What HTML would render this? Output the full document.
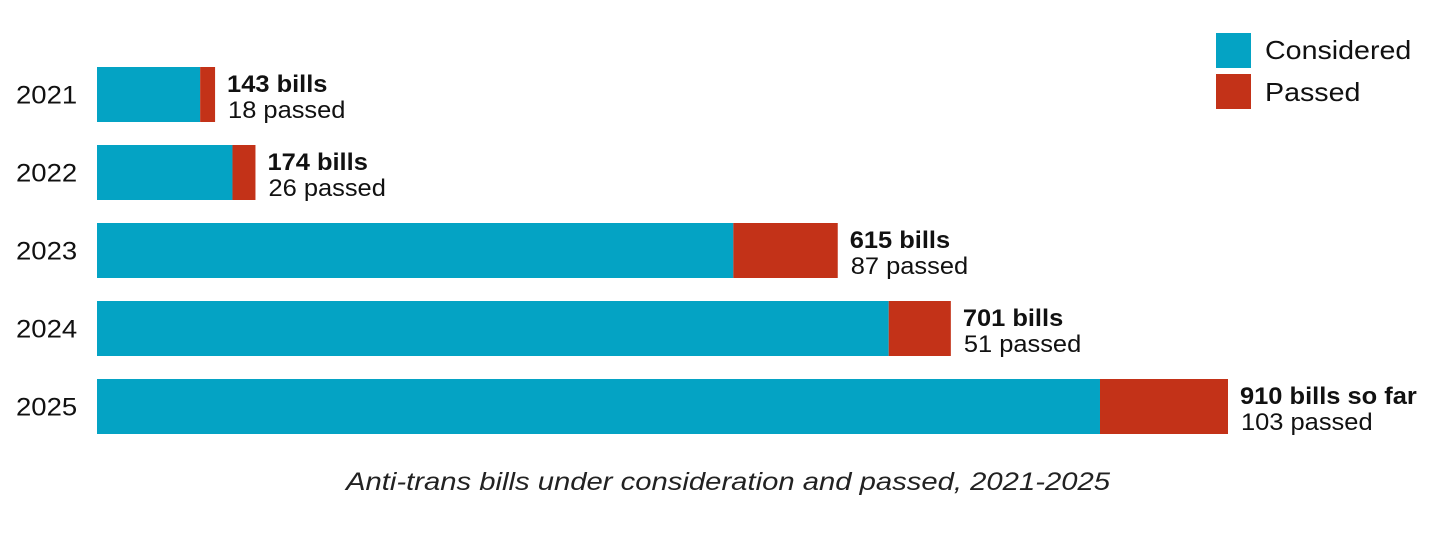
<!DOCTYPE html>
<html><head><meta charset="utf-8">
<style>
html,body{margin:0;padding:0;background:#fff;}
body{width:1456px;height:534px;overflow:hidden;font-family:"Liberation Sans",sans-serif;}
</style></head>
<body>
<svg id="chart" width="1456" height="534" xmlns="http://www.w3.org/2000/svg">
  <g>
    <rect x="1216" y="33" width="35" height="35" fill="#04a3c4"/>
    <text class="stretch" data-k="1.1" x="1265" y="59" font-size="26" fill="#111">Considered</text>
    <rect x="1216" y="74" width="35" height="35" fill="#c33218"/>
    <text class="stretch" data-k="1.1" x="1265" y="101" font-size="26" fill="#111">Passed</text>
  </g>
  <text x="346" y="490" font-size="25" font-style="italic" fill="#222" textLength="764" lengthAdjust="spacingAndGlyphs">Anti-trans bills under consideration and passed, 2021-2025</text>
  <g id="bars"></g>
</svg>
<script>
// Segment lengths (bill units on a common scale)
const years = ["2021","2022","2023","2024","2025"];
const considered = [83, 109, 512, 637, 807];
const passed = [12, 18.5, 84, 50, 103];
const totalLabels = ["143 bills","174 bills","615 bills","701 bills","910 bills so far"];
const passedLabels = ["18 passed","26 passed","87 passed","51 passed","103 passed"];

const x0 = 97, pxPerUnit = 1131/910;
const xScale = v => x0 + v*pxPerUnit;
const rowTop = i => 67 + i*78;
const barH = 55;
const NS = "http://www.w3.org/2000/svg";
const g = document.getElementById("bars");
function mk(tag, attrs){const e=document.createElementNS(NS,tag);for(const k in attrs)e.setAttribute(k,attrs[k]);return e;}
years.forEach((yr,i)=>{
  const y = rowTop(i);
  const t = mk("text",{x:16,y:y+barH/2+9,"font-size":25,fill:"#111",class:"stretch","data-k":"1.1"});
  t.textContent = yr;
  
  
  g.appendChild(t);
  const xb = xScale(considered[i]);
  const b = mk("rect",{x:x0,y:y,width:xb-x0,height:barH,fill:"#04a3c4"});
  
  
  g.appendChild(b);
  const xr = xScale(considered[i]+passed[i]);
  const r = mk("rect",{x:xb,y:y,width:xr-xb,height:barH,fill:"#c33218"});
  
  
  g.appendChild(r);
  const l1 = mk("text",{x:xr+12,y:y+25,"font-size":24,"font-weight":"bold",fill:"#111",class:"stretch","data-k":"1.06"});
  l1.textContent = totalLabels[i];
  
  
  g.appendChild(l1);
  const l2 = mk("text",{x:xr+13,y:y+51,"font-size":24,fill:"#111",class:"stretch","data-k":"1.06"});
  l2.textContent = passedLabels[i];
  
  
  g.appendChild(l2);
});
document.querySelectorAll("text.stretch").forEach(t=>{
  const k = parseFloat(t.getAttribute("data-k"));
  const w = t.getComputedTextLength();
  t.setAttribute("textLength", (w*k).toFixed(1));
  t.setAttribute("lengthAdjust","spacingAndGlyphs");
});
</script>
</body></html>
